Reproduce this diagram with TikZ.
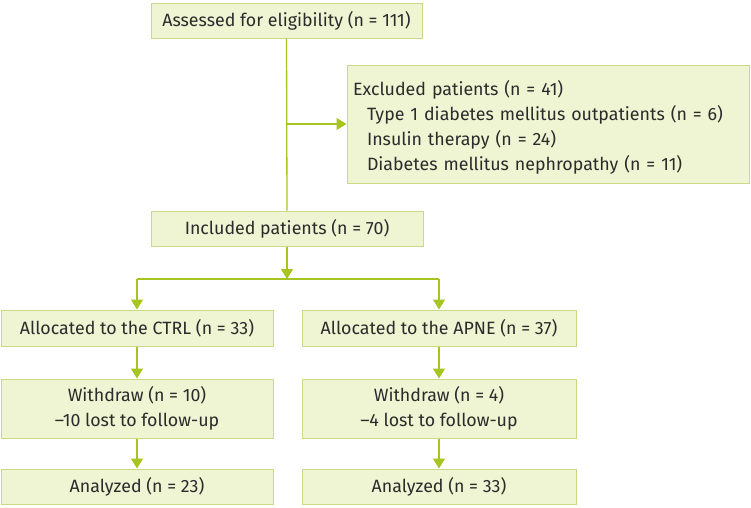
\documentclass[tikz,border=0pt]{standalone}
\usepackage{fontspec}
\setmainfont{Fira Sans}
\usetikzlibrary{arrows.meta}
\definecolor{boxfill}{HTML}{EFF4D3}
\definecolor{boxline}{HTML}{C8DA85}
\definecolor{conn}{HTML}{A6C520}
\definecolor{txt}{HTML}{2B2B2B}
\tikzset{
  box/.style={draw=boxline, fill=boxfill, line width=1pt, inner sep=0pt, text=txt,
    font=\fontsize{17.8}{25}\selectfont, align=center},
  conline/.style={draw=conn, line width=1.3pt},
  arr/.style={conline, -{Triangle[width=12pt,length=10pt]}}
}
\begin{document}
\begin{tikzpicture}[x=1pt,y=-1pt]
\useasboundingbox (0,0) rectangle (751,507);
\node[box, minimum width=271pt, minimum height=35pt] (assess) at (286.5,20.5) {Assessed for eligibility (n = 111)};
\node[box, minimum width=402pt, minimum height=118pt, align=left, text width=390pt] (excl) at (548,124)
  {\rule{0pt}{21.5pt}Excluded patients (n = 41)\\
   \hspace*{14pt}Type 1 diabetes mellitus outpatients (n = 6)\\
   \hspace*{14pt}Insulin therapy (n = 24)\\
   \hspace*{14pt}Diabetes mellitus nephropathy (n = 11)};
\node[box, minimum width=272pt, minimum height=35pt] (incl) at (287,228.5) {Included patients (n = 70)};
\node[box, minimum width=272pt, minimum height=36pt] (ctrl) at (137,328) {Allocated to the CTRL (n = 33)};
\node[box, minimum width=274pt, minimum height=36pt] (apne) at (439,328) {Allocated to the APNE (n = 37)};
\node[box, minimum width=272pt, minimum height=59pt] (wl) at (137,408.5) {Withdraw (n = 10)\\--10 lost to follow-up};
\node[box, minimum width=274pt, minimum height=59pt] (wr) at (439,408.5) {Withdraw (n = 4)\\--4 lost to follow-up};
\node[box, minimum width=272pt, minimum height=35pt] (al) at (137,486.5) {Analyzed (n = 23)};
\node[box, minimum width=274pt, minimum height=35pt] (ar) at (439,486.5) {Analyzed (n = 33)};
\coordinate (br) at (assess.south |- excl.west);
\coordinate (jn) at (incl.south |- 0,279);
\coordinate (jl) at (ctrl.north |- jn);
\coordinate (jr) at (apne.north |- jn);
\draw[conline] (assess.south) -- (incl.north);
\draw[arr] (br) -- (excl.west);
\draw[arr] (incl.south) -- (jn);
\draw[conline] (jl) -- (jr);
\draw[arr] (jl) -- (ctrl.north);
\draw[arr] (jr) -- (apne.north);
\draw[arr] (ctrl.south) -- (wl.north);
\draw[arr] (apne.south) -- (wr.north);
\draw[arr] (wl.south) -- (al.north);
\draw[arr] (wr.south) -- (ar.north);
\end{tikzpicture}
\end{document}
